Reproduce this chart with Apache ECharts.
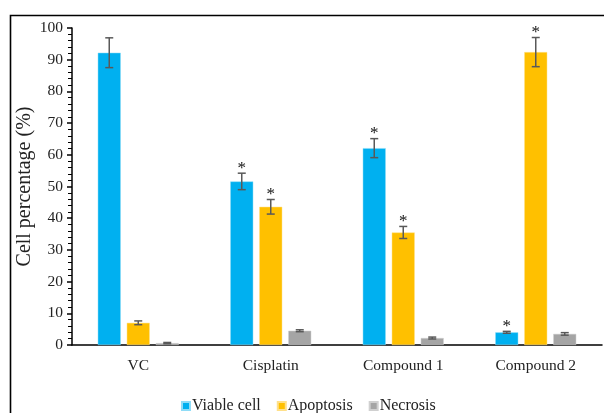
<!DOCTYPE html>
<html><head><meta charset="utf-8">
<script src="https://cdn.jsdelivr.net/npm/echarts@6/dist/echarts.min.js"></script>
<style>html,body{margin:0;padding:0;background:#fff}#c{width:604px;height:413px}</style>
</head><body><div id="c"></div>
<script>
const categories = ['VC', 'Cisplatin', 'Compound 1', 'Compound 2'];
const seriesNames = ['Viable cell', 'Apoptosis', 'Necrosis'];
const viable = [92.2, 51.6, 62.1, 4.0];
const viableErr = [4.7, 2.6, 3.0, 0.3];
const apoptosis = [7.0, 43.6, 35.5, 92.4];
const apoptosisErr = [0.6, 2.3, 1.9, 4.6];
const necrosis = [0.6, 4.5, 2.2, 3.5];
const necrosisErr = [0.2, 0.3, 0.3, 0.4];
const sigViable = [0, 1, 1, 1];
const sigApoptosis = [0, 1, 1, 1];
const sigNecrosis = [0, 0, 0, 0];
const yTicks = [0, 10, 20, 30, 40, 50, 60, 70, 80, 90, 100];

const colors = ['#00B0F0', '#FFC000', '#A5A5A5'];
const font = 'Liberation Serif, Times New Roman, serif';
const barW = 23, gapPx = 6;

const chart = echarts.init(document.getElementById('c'));

function errSeries(vals, errs, sigs, idx) {
  const off = (idx - 1) * (barW + gapPx);
  return {
    type: 'custom',
    name: seriesNames[idx] + ' err',
    z: 10,
    silent: true,
    data: vals.map((v, i) => [i, v, errs[i], sigs[i]]),
    renderItem: function (params, api) {
      const i = api.value(0), v = api.value(1), e = api.value(2), s = api.value(3);
      const top = api.coord([i, v + e]);
      const bot = api.coord([i, Math.max(0, v - e)]);
      const x = top[0] + off;
      const cw = 4;
      const st = { stroke: '#595959', lineWidth: 1.5 };
      const children = [
        { type: 'line', shape: { x1: x, y1: top[1], x2: x, y2: bot[1] }, style: st },
        { type: 'line', shape: { x1: x - cw, y1: top[1], x2: x + cw, y2: top[1] }, style: st },
        { type: 'line', shape: { x1: x - cw, y1: bot[1], x2: x + cw, y2: bot[1] }, style: st }
      ];
      if (s) {
        children.push({ type: 'text', style: { text: '*', x: x, y: top[1] - 5, align: 'center', verticalAlign: 'middle', font: '17px ' + font, fill: '#111' } });
      }
      return { type: 'group', children: children };
    }
  };
}

chart.setOption({
  animation: false,
  color: colors,
  graphic: [{
    type: 'rect', left: 8, top: 13, z: 100, silent: true,
    shape: { width: 700, height: 500 },
    style: { fill: 'none', stroke: '#000', lineWidth: 1.6 }
  }],
  grid: { left: 72, right: 2, top: 28, bottom: 68, containLabel: false },
  legend: {
    bottom: -6, left: 176,
    itemWidth: 8, itemHeight: 8, itemGap: 16,
    icon: 'rect',
    textStyle: { fontFamily: font, fontSize: 16, color: '#222', padding: [0, 0, 0, -3] },
    data: seriesNames
  },
  xAxis: {
    type: 'category', data: categories,
    axisLine: { lineStyle: { color: '#000', width: 1.5 } },
    axisTick: { show: false },
    axisLabel: { fontFamily: font, fontSize: 15.5, color: '#222', margin: 13 }
  },
  yAxis: {
    type: 'value', min: 0, max: 100, interval: 10,
    name: 'Cell percentage (%)', nameLocation: 'middle', nameGap: 37, nameRotate: 90,
    nameMoveOverlap: false,
    nameTextStyle: { fontFamily: font, fontSize: 20, color: '#222' },
    axisLine: { show: true, lineStyle: { color: '#000', width: 1.5 } },
    axisTick: { show: true, length: 5, lineStyle: { color: '#000', width: 1.5 } },
    minorTick: { show: true, splitNumber: 5, length: 4, lineStyle: { color: '#000', width: 1 } },
    splitLine: { show: false },
    axisLabel: { fontFamily: font, fontSize: 15.5, color: '#222', margin: 9,
      formatter: v => yTicks.includes(v) ? String(v) : '' }
  },
  series: [
    { type: 'bar', name: seriesNames[0], data: viable, barWidth: barW, barGap: (gapPx / barW * 100) + '%', itemStyle: { color: colors[0], borderColor: '#8fdcf7', borderWidth: 0.5 } },
    { type: 'bar', name: seriesNames[1], data: apoptosis, barWidth: barW, barGap: (gapPx / barW * 100) + '%', itemStyle: { color: colors[1], borderColor: '#ffe08a', borderWidth: 0.5 } },
    { type: 'bar', name: seriesNames[2], data: necrosis, barWidth: barW, barGap: (gapPx / barW * 100) + '%', itemStyle: { color: colors[2], borderColor: '#d0d0d0', borderWidth: 0.5 } },
    errSeries(viable, viableErr, sigViable, 0),
    errSeries(apoptosis, apoptosisErr, sigApoptosis, 1),
    errSeries(necrosis, necrosisErr, sigNecrosis, 2)
  ]
});
</script></body></html>
